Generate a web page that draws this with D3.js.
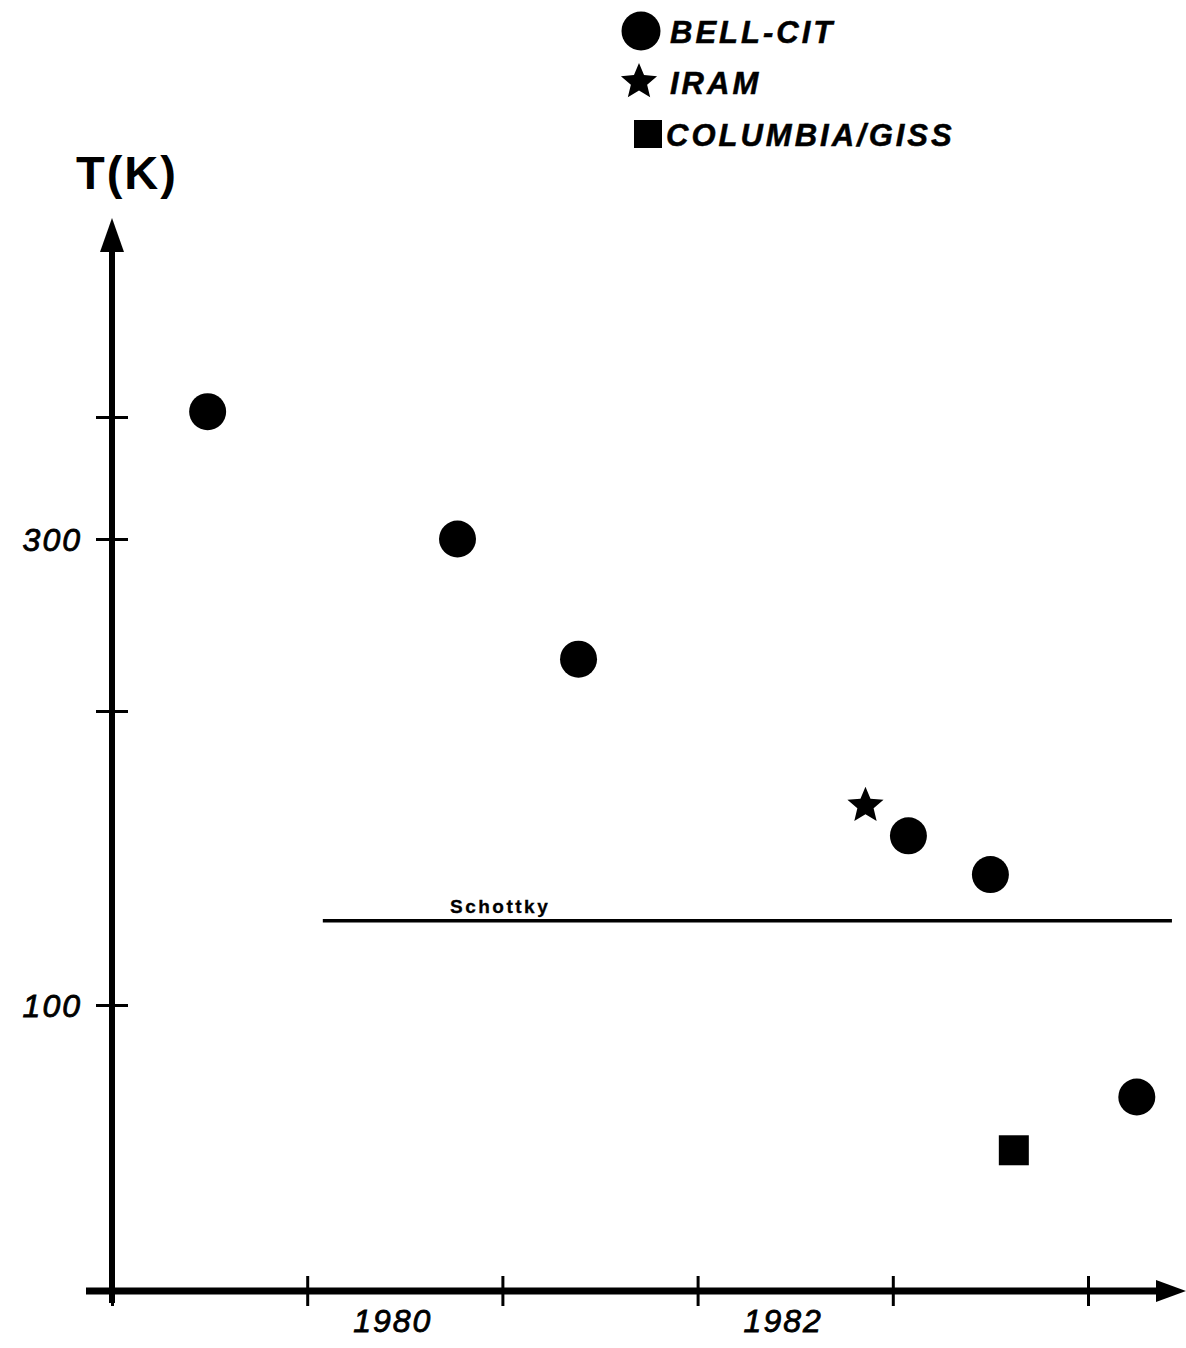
<!DOCTYPE html>
<html>
<head>
<meta charset="utf-8">
<script src="https://cdn.jsdelivr.net/npm/d3@7"></script>
<style>
  html, body { margin: 0; padding: 0; background: #fff; }
  svg { display: block; }
  text { font-family: "Liberation Sans", Arial, sans-serif; fill: #000; }
</style>
</head>
<body>
<script>
// ---------- data ----------
const bellYears     = [1979.49, 1980.77, 1981.39, 1983.08, 1983.50, 1984.25];
const bellTemps     = [405, 300, 226, 149, 136, 80.5];
const iramYears     = [1982.86];
const iramTemps     = [160];
const gissYears     = [1983.62];
const gissTemps     = [71];
const schottkyTemp  = 122;
const schottkyYears = [1980.08, 1984.43];
const xTickYears    = [1979, 1980, 1981, 1982, 1983, 1984];
const xLabelYears   = [1980, 1982];
const yTickValues   = [100, 200, 300, 400];
const yLabelValues  = [100, 300];
const legendNames   = ["BELL-CIT", "IRAM", "COLUMBIA/GISS"];
const legendShapes  = ["circle", "star", "square"];

// ---------- layout ----------
const W = 1186, H = 1348;
const svg = d3.select("body").append("svg").attr("width", W).attr("height", H);

const x = d3.scaleLinear().domain([1979, 1984]).range([112, 1088]);
const y = d3.scaleLog().domain([100, 300]).range([1005, 539]);

const axisY = 1291;      // pixel row of the x axis
const axisX = x(1979);   // pixel column of the y axis

// ---------- shapes ----------
function starPath(cx, cy, R) {
  const r = R * 0.45;
  const pts = [];
  for (let i = 0; i < 10; i++) {
    const a = -Math.PI / 2 + i * Math.PI / 5;
    const rr = i % 2 === 0 ? R : r;
    pts.push([cx + rr * Math.cos(a), cy + rr * Math.sin(a)]);
  }
  return "M" + pts.map(p => p.join(",")).join("L") + "Z";
}
function drawShape(g, shape, cx, cy, size) {
  if (shape === "circle") {
    g.append("circle").attr("cx", cx).attr("cy", cy).attr("r", size).attr("fill", "#000");
  } else if (shape === "star") {
    g.append("path").attr("d", starPath(cx, cy, size)).attr("fill", "#000");
  } else {
    g.append("rect").attr("x", cx - size).attr("y", cy - size)
      .attr("width", size * 2).attr("height", size * 2).attr("fill", "#000");
  }
}

// ---------- y axis ----------
const yAxisG = svg.append("g").attr("transform", `translate(${axisX},0)`)
  .call(d3.axisLeft(y).tickValues(yTickValues)
    .tickFormat(d => yLabelValues.includes(d) ? String(d) : "")
    .tickSizeOuter(0).tickSizeInner(16).tickPadding(14));
yAxisG.select(".domain").remove();
yAxisG.selectAll(".tick line").attr("x1", -16).attr("x2", 16)
  .attr("stroke", "#000").attr("stroke-width", 3);
yAxisG.selectAll(".tick text")
  .attr("font-size", 32).attr("font-style", "italic")
  .attr("letter-spacing", 2).attr("dy", "0.36em")
  .attr("stroke", "#000").attr("stroke-width", 0.8)
  .attr("font-family", "'Liberation Sans', Arial, sans-serif");

svg.append("line").attr("x1", axisX).attr("x2", axisX)
  .attr("y1", axisY + 12).attr("y2", 245)
  .attr("stroke", "#000").attr("stroke-width", 6);
svg.append("path")
  .attr("d", `M${axisX},218 L${axisX - 12},252 L${axisX + 12},252 Z`)
  .attr("fill", "#000");

// ---------- x axis ----------
const xAxisG = svg.append("g").attr("transform", `translate(0,${axisY})`)
  .call(d3.axisBottom(x).tickValues(xTickYears).tickFormat("")
    .tickSizeOuter(0).tickSizeInner(15));
xAxisG.select(".domain").remove();
xAxisG.selectAll(".tick line").attr("y1", -15).attr("y2", 15)
  .attr("stroke", "#000").attr("stroke-width", 3);

svg.append("line").attr("x1", 86).attr("x2", 1162)
  .attr("y1", axisY).attr("y2", axisY)
  .attr("stroke", "#000").attr("stroke-width", 7);
svg.append("path")
  .attr("d", `M1186,${axisY} L1156,${axisY - 11} L1156,${axisY + 11} Z`)
  .attr("fill", "#000");

svg.selectAll("text.xlab").data(xLabelYears).enter().append("text")
  .attr("class", "xlab")
  .attr("x", d => x(d + 0.5) - 12)
  .attr("y", axisY + 41)
  .attr("text-anchor", "middle")
  .attr("font-size", 32).attr("font-style", "italic").attr("letter-spacing", 2)
  .attr("stroke", "#000").attr("stroke-width", 0.8)
  .text(d => String(d));

// axis title
svg.append("text").attr("x", 76).attr("y", 189)
  .attr("font-size", 47).attr("font-weight", "bold").attr("letter-spacing", 2)
  .text("T(K)");

// ---------- Schottky line ----------
svg.append("line")
  .attr("x1", x(schottkyYears[0])).attr("x2", x(schottkyYears[1]))
  .attr("y1", y(schottkyTemp)).attr("y2", y(schottkyTemp))
  .attr("stroke", "#000").attr("stroke-width", 3.5);
svg.append("text")
  .attr("x", 450).attr("y", y(schottkyTemp) - 8)
  .attr("font-size", 19).attr("font-weight", "bold").attr("letter-spacing", 2.5)
  .attr("stroke", "#000").attr("stroke-width", 0.3)
  .text("Schottky");

// ---------- data marks ----------
const marks = svg.append("g");
bellYears.forEach((yr, i) => drawShape(marks, "circle", x(yr), y(bellTemps[i]), 18.5));
iramYears.forEach((yr, i) => drawShape(marks, "star", x(yr), y(iramTemps[i]), 19));
gissYears.forEach((yr, i) => drawShape(marks, "square", x(yr), y(gissTemps[i]), 15));

// ---------- legend ----------
const legendRowsY = [31, 82, 134];
const legendIconX = [641, 639, 648];
const legendSizes = [19.5, 19, 14];
const legend = svg.append("g");
legendNames.forEach((name, i) => {
  drawShape(legend, legendShapes[i], legendIconX[i], legendRowsY[i], legendSizes[i]);
  legend.append("text")
    .attr("x", i === 2 ? 666 : 670).attr("y", legendRowsY[i] + 12)
    .attr("font-size", 31).attr("font-weight", "bold").attr("font-style", "italic")
    .attr("letter-spacing", 3)
    .attr("stroke", "#000").attr("stroke-width", 0.5)
    .text(name);
});
</script>
</body>
</html>
